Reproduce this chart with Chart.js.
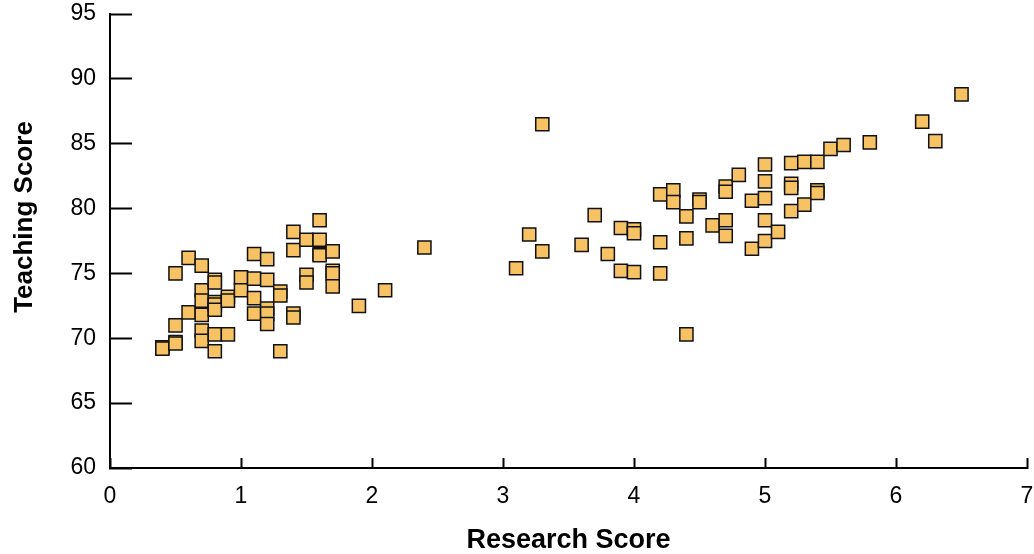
<!DOCTYPE html>
<html>
<head>
<meta charset="utf-8">
<title>Teaching vs Research Score</title>
<script src="https://cdn.jsdelivr.net/npm/chart.js@4.4.1/dist/chart.umd.min.js"></script>
<style>
  html, body { margin: 0; padding: 0; background: #fff; }
  #wrap { position: relative; width: 1034px; height: 554px; }
</style>
</head>
<body>
<div id="wrap"><canvas id="scatterChart"></canvas></div>
<script>
const xTicks = [0, 1, 2, 3, 4, 5, 6, 7];
const yTicks = [60, 65, 70, 75, 80, 85, 90, 95];

const xTitle = "Research Score";
const yTitle = "Teaching Score";

// one entry per institution
const researchScore = [
  0.4, 0.4,
  0.5, 0.5, 0.5, 0.5,
  0.6, 0.6,
  0.7, 0.7, 0.7, 0.7, 0.7, 0.7,
  0.8, 0.8, 0.8, 0.8, 0.8, 0.8, 0.8,
  0.9, 0.9, 0.9,
  1.0, 1.0,
  1.1, 1.1, 1.1, 1.1,
  1.2, 1.2, 1.2, 1.2, 1.2,
  1.3, 1.3, 1.3,
  1.4, 1.4, 1.4, 1.4,
  1.5, 1.5, 1.5,
  1.6, 1.6, 1.6, 1.6,
  1.7, 1.7, 1.7, 1.7,
  1.9, 2.1, 2.4,
  3.1, 3.2, 3.3, 3.3,
  3.6, 3.7, 3.8,
  3.9, 3.9,
  4.0, 4.0, 4.0,
  4.2, 4.2, 4.2,
  4.3, 4.3,
  4.4, 4.4, 4.4,
  4.5, 4.5,
  4.6,
  4.7, 4.7, 4.7, 4.7,
  4.8,
  4.9, 4.9,
  5.0, 5.0, 5.0, 5.0, 5.0,
  5.1,
  5.2, 5.2, 5.2, 5.2,
  5.3, 5.3,
  5.4, 5.4, 5.4,
  5.5, 5.6, 5.8,
  6.2, 6.3, 6.5,
];
const teachingScore = [
  69.3, 69.2,
  75.0, 71.0, 69.7, 69.6,
  76.2, 72.0,
  75.6, 73.7, 72.9, 71.8, 70.6, 69.8,
  74.5, 74.3, 72.8, 72.6, 72.2, 70.3, 69.0,
  73.2, 72.9, 70.3,
  74.7, 73.7,
  76.5, 74.6, 73.1, 71.9,
  76.1, 74.5, 72.3, 71.9, 71.1,
  73.6, 73.3, 69.0,
  78.2, 76.8, 71.9, 71.6,
  77.6, 74.9, 74.3,
  79.1, 77.6, 76.5, 76.4,
  76.7, 75.2, 75.0, 74.0,
  72.5, 73.7, 77.0,
  75.4, 78.0, 86.5, 76.7,
  77.2, 79.5, 76.5,
  78.5, 75.2,
  78.4, 78.1, 75.1,
  81.1, 77.4, 75.0,
  81.4, 80.5,
  79.4, 77.7, 70.3,
  80.7, 80.5,
  78.7,
  81.7, 81.3, 79.1, 77.9,
  82.6,
  80.6, 76.9,
  83.4, 82.1, 80.8, 79.1, 77.5,
  78.2,
  83.5, 81.9, 81.6, 79.8,
  83.6, 80.3,
  83.6, 81.4, 81.2,
  84.6, 84.9, 85.1,
  86.7, 85.2, 88.8,
];

const FONT = "'Liberation Sans', Arial, Helvetica, sans-serif";
const tickFont = { family: FONT, size: 23 };

const points = researchScore.map((x, i) => ({ x, y: teachingScore[i] }));

function zeroPadding(scale) {
  scale.paddingTop = 0;
  scale.paddingBottom = 0;
  scale.paddingLeft = 0;
  scale.paddingRight = 0;
}

// y title sits a bit above the axis middle in the original
const yTitlePlugin = {
  id: "yTitle",
  afterDraw(chart) {
    const { ctx } = chart;
    ctx.save();
    ctx.translate(25, 217);
    ctx.rotate(-Math.PI / 2);
    ctx.font = `bold 26px ${FONT}`;
    ctx.fillStyle = "#000";
    ctx.textAlign = "center";
    ctx.textBaseline = "middle";
    ctx.fillText(yTitle, 0, 0);
    ctx.restore();
  },
};

new Chart(document.getElementById("scatterChart"), {
  type: "scatter",
  data: {
    datasets: [{
      label: "Institutions",
      data: points,
      pointStyle: "rect",
      pointRadius: 9.3,
      pointHoverRadius: 9.3,
      backgroundColor: "#F6C263",
      borderColor: "#111",
      borderWidth: 1.5,
    }],
  },
  options: {
    responsive: true,
    maintainAspectRatio: false,
    animation: false,
    layout: { autoPadding: false, padding: { top: 14, right: 7, bottom: 0, left: 0 } },
    plugins: { legend: { display: false }, tooltip: { enabled: false } },
    scales: {
      x: {
        type: "linear",
        min: xTicks[0],
        max: xTicks[xTicks.length - 1],
        ticks: { stepSize: xTicks[1] - xTicks[0], padding: 25, color: "#000", font: tickFont },
        grid: { drawOnChartArea: false, drawTicks: true, tickLength: -10, tickWidth: 2, tickColor: "#000" },
        border: { display: true, color: "#000", width: 2 },
        title: {
          display: true,
          text: xTitle,
          color: "#000",
          font: { family: FONT, size: 27, weight: "bold", lineHeight: 1 },
          padding: { top: 0, bottom: 0 },
        },
        afterFit(scale) {
          scale.height = 86;
          zeroPadding(scale);
        },
      },
      y: {
        type: "linear",
        min: yTicks[0],
        max: yTicks[yTicks.length - 1],
        ticks: { stepSize: yTicks[1] - yTicks[0], padding: 36, color: "#000", font: tickFont },
        grid: { drawOnChartArea: false, drawTicks: true, tickLength: -22, tickWidth: 2, tickColor: "#000" },
        border: { display: true, color: "#000", width: 2 },
        afterFit(scale) {
          scale.width = 110;
          zeroPadding(scale);
        },
      },
    },
  },
  plugins: [yTitlePlugin],
});
</script>
</body>
</html>
